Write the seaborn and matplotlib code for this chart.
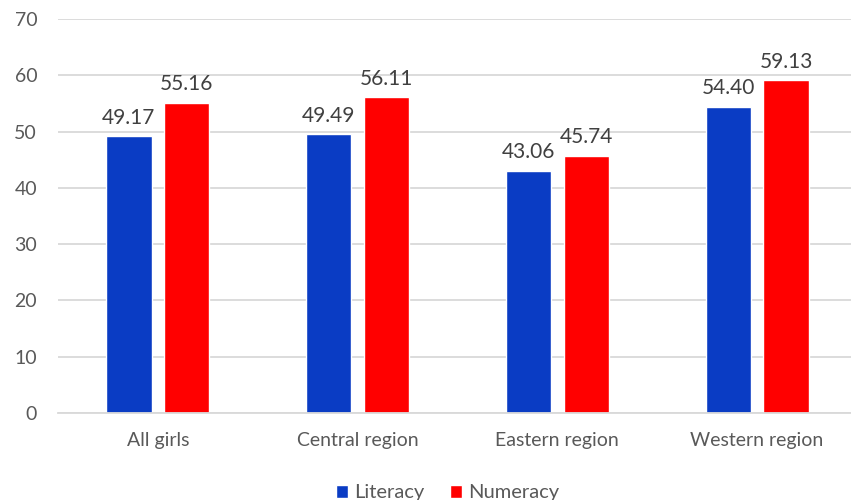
import pandas as pd
import matplotlib
matplotlib.use("Agg")
import matplotlib.pyplot as plt
import seaborn as sns

regions = ["All girls", "Central region", "Eastern region", "Western region"]
literacy = [49.17, 49.49, 43.06, 54.40]
numeracy = [55.16, 56.11, 45.74, 59.13]
series = ["Literacy", "Numeracy"]
colors = ["#0A3CC4", "#FF0000"]

df = pd.DataFrame({
    "Region": regions * 2,
    "Score": literacy + numeracy,
    "Subject": [series[0]] * len(regions) + [series[1]] * len(regions),
})

sns.set_style("white")
plt.rcParams["font.family"] = ["Lato", "DejaVu Sans"]

fig = plt.figure(figsize=(8.51, 5.0), dpi=100)
ax = fig.add_axes([58 / 851, 87 / 500, 1 - 58 / 851, 394 / 500])

sns.barplot(data=df, x="Region", y="Score", hue="Subject", palette=colors,
            width=0.58, gap=0.22, ax=ax, saturation=1, errorbar=None)

for cont in ax.containers:
    ax.bar_label(cont, fmt="%.2f", padding=6, fontsize=15, color="#404040")

ax.set_ylim(0, 70)
ax.set_xlim(-0.5, 3.47)
ax.set_yticks(range(0, 71, 10))
ax.yaxis.grid(True, color="#D9D9D9", linewidth=1.3)
ax.set_axisbelow(True)
for s in ["left", "right", "top"]:
    ax.spines[s].set_visible(False)
ax.spines["bottom"].set_color("#D9D9D9")
ax.spines["bottom"].set_linewidth(1.3)
ax.tick_params(axis="both", length=0, labelsize=14, colors="#595959")
ax.tick_params(axis="x", pad=14)
ax.tick_params(axis="y", pad=15)
ax.set_xlabel("")
ax.set_ylabel("")

handles, labels = ax.get_legend_handles_labels()
ax.legend(handles, labels, loc="lower center", bbox_to_anchor=(0.5 - 7 / 793, -0.27),
          ncol=2, frameon=False, fontsize=14.5, handlelength=0.6, handleheight=0.6,
          handletextpad=0.3, columnspacing=1.3, labelcolor="#595959")

fig.savefig("out.png", dpi=100)
